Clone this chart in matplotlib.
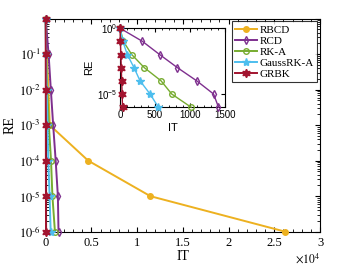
import matplotlib
matplotlib.use("Agg")
import matplotlib.pyplot as plt
from matplotlib.ticker import FuncFormatter, AutoMinorLocator, LogLocator, NullFormatter
import numpy as np

plt.rcParams['font.family'] = ['Liberation Serif', 'DejaVu Serif']
plt.rcParams['mathtext.fontset'] = 'stix'

# relative error at each decade
re_vals = [1e0, 1e-1, 1e-2, 1e-3, 1e-4, 1e-5, 1e-6]

# iteration counts
it_rbcd = [0, 150, 300, 450, 4650, 11450, 26200]
it_rcd = [0, 320, 565, 820, 1095, 1335, 1405]
it_rka = [0, 48, 167, 347, 586, 738, 1014]
it_gauss = [0, 40, 104, 200, 286, 429, 548]
it_grbk = [0, 6, 12, 18, 24, 30, 36]

names = ['RBCD', 'RCD', 'RK-A', 'GaussRK-A', 'GRBK']
colors = ['#EDB120', '#7E2F8E', '#77AC30', '#4DBEEE', '#A2142F']
series = [it_rbcd, it_rcd, it_rka, it_gauss, it_grbk]
markers = ['o', 'd', 'o', '*', (6, 1, 0)]
filled = [True, False, False, True, True]


def draw(ax, ms, lw, skip=()):
    for name, c, its, m, f in zip(names, colors, series, markers, filled):
        if name in skip:
            continue
        size = ms * 1.5 if m in ('*', (6, 1, 0)) else ms
        ax.plot(its, re_vals, color=c, lw=lw, marker=m, ms=size,
                mfc=c if f else 'none', mec=c, mew=1.0, label=name,
                clip_on=False, zorder=3)


def pow_label(v, p):
    e = int(round(np.log10(v)))
    if e == 0:
        return ''
    return r'$10^{\text{-}%d}$' % (-e)


fig = plt.figure(figsize=(3.54, 2.66), dpi=100)
ax = fig.add_axes([0.129, 0.129, 0.775, 0.801])
draw(ax, 4, 1.4)
ax.set_yscale('log')
ax.set_xlim(0, 30000)
ax.set_ylim(1e-6, 1e0)
ax.set_xticks([0, 5000, 10000, 15000, 20000, 25000, 30000])
ax.xaxis.set_major_formatter(FuncFormatter(lambda v, p: '%g' % (v / 1e4)))
ax.xaxis.set_minor_locator(AutoMinorLocator(5))
ax.set_yticks(re_vals)
ax.yaxis.set_major_formatter(FuncFormatter(pow_label))
ax.yaxis.set_minor_locator(LogLocator(base=10, subs=np.arange(2, 10), numticks=20))
ax.yaxis.set_minor_formatter(NullFormatter())
ax.tick_params(which='both', direction='in', top=True, right=True, labelsize=9)
ax.tick_params(which='major', length=3.5)
ax.tick_params(which='minor', length=2)
ax.set_xlabel('IT', fontsize=10, labelpad=1)
ax.set_ylabel('RE', fontsize=10)
ax.yaxis.set_label_coords(-0.105, 0.5)
ax.text(0.955, -0.095, r'$\times10^{4}$', transform=ax.transAxes, fontsize=8.5,
        ha='center', va='top')
leg = ax.legend(loc='upper right', fontsize=8, frameon=True, fancybox=False,
                edgecolor='black', handlelength=2.0, handletextpad=0.2,
                labelspacing=0.12, borderpad=0.3, borderaxespad=0.25)
leg.get_frame().set_linewidth(0.8)
leg.set_zorder(5)

# inset
ins = fig.add_axes([0.339, 0.597, 0.297, 0.297])
draw(ins, 4, 1.0, skip=('RBCD',))
ins.set_yscale('log')
ins.set_xlim(0, 1500)
ins.set_ylim(1e-6, 1e0)
ins.set_xticks([0, 500, 1000, 1500])
ins.set_yticks([1e0, 1e-5])
ins.xaxis.set_minor_locator(AutoMinorLocator(5))
ins.yaxis.set_minor_formatter(NullFormatter())
ins.yaxis.set_major_formatter(FuncFormatter(
    lambda v, p: r'$\mathregular{10^{%d}}$' % int(round(np.log10(v)))))
ins.tick_params(which='both', direction='in', top=True, right=True, labelsize=7, pad=2)
ins.tick_params(which='major', length=3)
ins.tick_params(which='minor', length=1.5)
ins.set_xlabel('IT', fontsize=8, family='Liberation Sans', labelpad=2)
ins.set_ylabel('RE', fontsize=8, family='Liberation Sans', labelpad=2)
fig.canvas.draw()
for lab in ins.get_xticklabels() + ins.get_yticklabels():
    lab.set_family('Liberation Sans')

fig.savefig('out.png', dpi=100)
